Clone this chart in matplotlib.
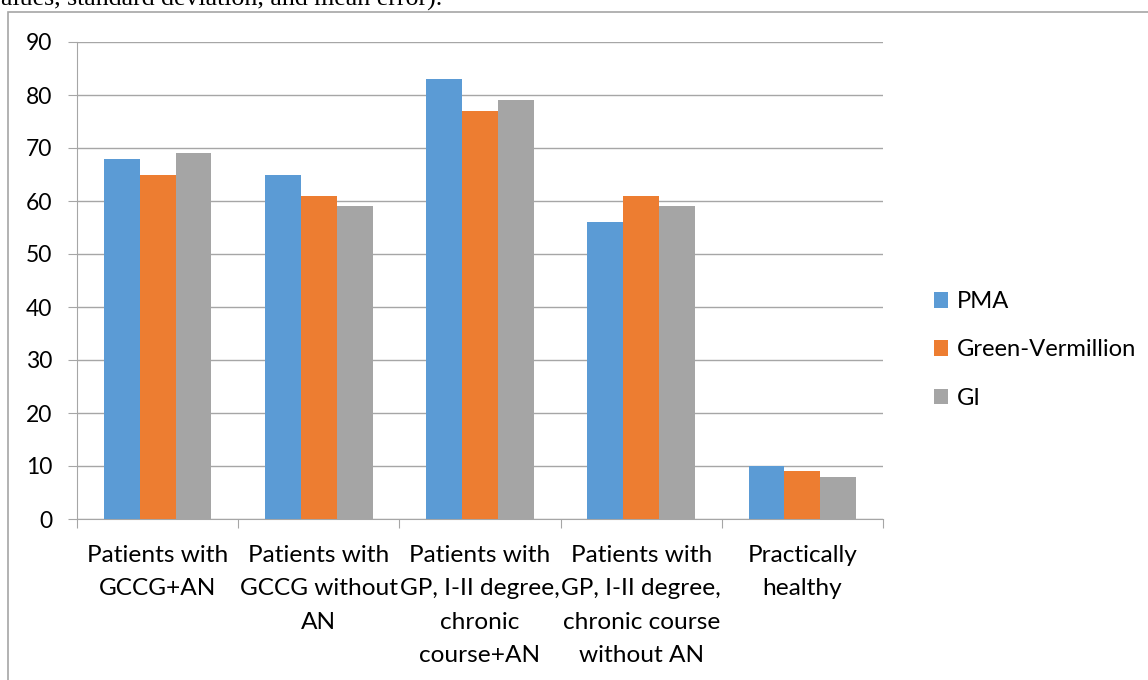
import numpy as np
import matplotlib
matplotlib.use("Agg")
from matplotlib import pyplot as plt
from matplotlib.patches import Rectangle

# data
categories = ["Patients with\nGCCG+AN",
              "Patients with\nGCCG without\nAN",
              "Patients with\nGP, I-II degree,\nchronic\ncourse+AN",
              "Patients with\nGP, I-II degree,\nchronic course\nwithout AN",
              "Practically\nhealthy"]
series_names = ["PMA", "Green-Vermillion", "GI"]
pma = [68, 65, 83, 56, 10]
green_vermillion = [65, 61, 77, 61, 9]
gi = [69, 59, 79, 59, 8]
yticks = list(range(0, 100, 10))

colors = ["#5b9bd5", "#ed7d31", "#a5a5a5"]
grid_col = "#a6a6a6"
W, H = 1148, 680

plt.rcParams['font.family'] = ['Lato', 'DejaVu Sans']
fig = plt.figure(figsize=(W / 100, H / 100), dpi=100)

# cut-off caption line from the page above the chart
fig.text(1 / W, 1 - 6 / H, "alues, standard deviation, and mean error).",
         family=['Liberation Serif'], fontsize=18.6, va='baseline', ha='left')

# chart frame
fig.patches.append(Rectangle((8 / W, -0.1), 1.2, 1 - 12 / H + 0.1,
                             transform=fig.transFigure, fill=False,
                             edgecolor=grid_col, linewidth=1.2))

ax = fig.add_axes([77 / W, (H - 519) / H, (883 - 77) / W, (519 - 42) / H])
x = np.arange(len(categories))
bw = 1 / 4.5
for k, vals in enumerate([pma, green_vermillion, gi]):
    ax.bar(x + (k - 1) * bw, vals, bw, color=colors[k], label=series_names[k],
           zorder=3)

ax.set_xlim(-0.5, len(categories) - 0.5)
ax.set_ylim(0, 90)
ax.set_yticks(yticks)
ax.yaxis.grid(True, color=grid_col, linewidth=1)
ax.set_axisbelow(True)
ax.tick_params(axis='y', length=6.5, color=grid_col, labelsize=16.5, pad=11.5)

ax.set_xticks(np.arange(-0.5, len(categories), 1))
ax.set_xticklabels([])
ax.set_xticks(x, minor=True)
ax.set_xticklabels(categories, minor=True, fontsize=17.6, linespacing=1.73,
                   va='top')
ax.tick_params(axis='x', which='major', length=6.5, color=grid_col)
ax.tick_params(axis='x', which='minor', length=0, pad=18.5)

for s in ['top', 'right']:
    ax.spines[s].set_visible(False)
for s in ['left', 'bottom']:
    ax.spines[s].set_color(grid_col)

fig.legend(loc='center left', bbox_to_anchor=(924 / W, 1 - 350 / H),
           frameon=False, fontsize=17.1, handlelength=0.62, handleheight=0.62,
           handletextpad=0.35, labelspacing=1.14, borderaxespad=0)

fig.savefig("out.png", dpi=100)
